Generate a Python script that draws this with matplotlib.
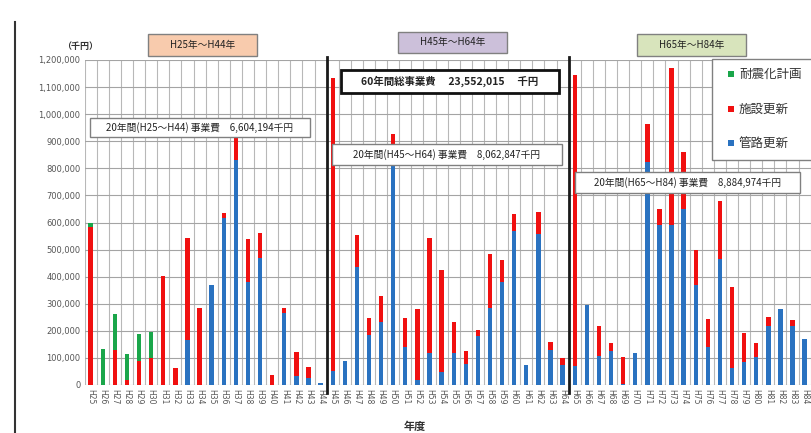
import matplotlib.pyplot as plt
from matplotlib.patches import Rectangle
from matplotlib.lines import Line2D
import numpy as np

plt.rcParams['font.family'] = ['Noto Sans CJK JP', 'DejaVu Sans']

# fiscal years H25..H84
years = ['H%d' % n for n in range(25, 85)]

# 管路更新 (千円)
pipe = [0, 0, 0, 0, 0, 0, 0, 0, 165000, 0,
        371000, 618000, 832000, 380000, 470000, 0, 265000, 34000, 27000, 7000,
        50000, 90000, 436000, 184000, 233000, 830000, 139000, 18000, 119000, 49000,
        117000, 76000, 180000, 283000, 381000, 569000, 74000, 559000, 131000, 74000,
        70000, 297000, 107000, 126000, 5000, 117000, 823000, 590000, 590000, 650000,
        368000, 141000, 467000, 61000, 86000, 102000, 217000, 280000, 217000, 170000]

# 施設更新 (千円)
facility = [585000, 0, 130000, 20000, 90000, 100000, 403000, 63000, 379000, 283000,
            0, 18000, 140000, 158000, 90000, 37000, 19000, 89000, 38000, 0,
            1084000, 0, 119000, 65000, 95000, 95000, 107000, 261000, 424000, 375000,
            116000, 49000, 23000, 200000, 80000, 64000, 0, 80000, 26000, 24000,
            1076000, 0, 112000, 30000, 97000, 0, 139000, 61000, 581000, 210000,
            129000, 101000, 212000, 301000, 107000, 52000, 35000, 0, 23000, 0]

# 耐震化計画 (千円)
quake = [15000, 133000, 132000, 96000, 100000, 95000, 0, 0, 0, 0,
         0, 0, 0, 0, 0, 0, 0, 0, 0, 0,
         0, 0, 0, 0, 0, 0, 0, 0, 0, 0,
         0, 0, 0, 0, 0, 0, 0, 0, 0, 0,
         0, 0, 0, 0, 0, 0, 0, 0, 0, 0,
         0, 0, 0, 0, 0, 0, 0, 0, 0, 0]

period_labels = ['H25年～H44年', 'H45年～H64年', 'H65年～H84年']
period_totals = ['20年間(H25～H44) 事業費　6,604,194千円',
                 '20年間(H45～H64) 事業費　8,062,847千円',
                 '20年間(H65～H84) 事業費　8,884,974千円']
grand_total = '60年間総事業費　 23,552,015 　千円'
series_names = ['耐震化計画', '施設更新', '管路更新']

BLUE = '#2a72c0'
RED = '#f01010'
GREEN = '#1aa64a'

W, H = 811, 433
fig = plt.figure(figsize=(W / 100, H / 100), dpi=100)


def fx(px):
    return px / W


def fy(py):
    return 1 - py / H


def box(x0, y0, x1, y1, text, fc='white', ec='#808080', lw=1.0, size=7, weight='normal'):
    fig.patches.append(Rectangle((fx(x0), fy(y1)), fx(x1) - fx(x0), fy(y0) - fy(y1),
                                 transform=fig.transFigure, fc=fc, ec=ec, lw=lw, zorder=5))
    fig.text(fx((x0 + x1) / 2), fy((y0 + y1) / 2), text, ha='center', va='center',
             fontsize=size, weight=weight, color='#222222', zorder=6)


ax = fig.add_axes([fx(84.6), fy(385), fx(810.7) - fx(84.6), fy(60) - fy(385)])

x = np.arange(len(years))
pipe_a = np.array(pipe)
fac_a = np.array(facility)
qk_a = np.array(quake)
bw = 0.36
ax.bar(x, pipe_a, bw, color=BLUE, zorder=3)
ax.bar(x, fac_a, bw, bottom=pipe_a, color=RED, zorder=3)
ax.bar(x, qk_a, bw, bottom=pipe_a + fac_a, color=GREEN, zorder=3)

ax.set_xlim(-0.5, len(years) - 0.5)
ax.set_ylim(0, 1200000)
ax.set_yticks(np.arange(0, 1200001, 100000))
ax.set_yticklabels(['{:,}'.format(v) for v in range(0, 1200001, 100000)],
                   fontsize=6, color='#555555', family='DejaVu Sans')
ax.set_xticks(x)
ax.set_xticklabels(years, rotation=-90, fontsize=5.5, color='#555555', family='DejaVu Sans')
ax.set_xticks(np.arange(-0.5, len(years), 1), minor=True)
ax.tick_params(axis='both', which='both', length=0, pad=3)
ax.grid(axis='y', which='major', color='#a4a4a4', lw=0.8, zorder=0)
ax.grid(axis='x', which='minor', color='#b8b8b8', lw=0.8, zorder=0)
for s in ax.spines.values():
    s.set_visible(False)

# period separators
for xs in (19.5, 39.5):
    ax.plot([xs, xs], [-28000, 1212000], color='#1a1a1a', lw=2, clip_on=False, zorder=4)

# outer frame (left edge)
fig.add_artist(Line2D([fx(15), fx(15)], [0, fy(22)], transform=fig.transFigure, color='#333333', lw=1.5))

fig.text(fx(80), fy(46), '（千円）', ha='center', va='center', fontsize=6.5, weight='bold', color='#333333')

box(148, 34, 257, 56, period_labels[0], fc='#f8cbad', size=7)
box(398, 32, 507, 53, period_labels[1], fc='#ccc0da', size=7)
box(637, 34, 746, 56, period_labels[2], fc='#d8e4bc', size=7)

box(341, 70, 559, 93, grand_total, ec='#111111', lw=2, size=7.5, weight='bold')
box(90, 118, 310, 137, period_totals[0], size=7)
box(332, 144, 562, 165, period_totals[1], size=7)
box(575, 172, 800, 193, period_totals[2], size=7)

# legend
fig.patches.append(Rectangle((fx(712), fy(160)), fx(830) - fx(712), fy(59) - fy(160),
                             transform=fig.transFigure, fc='white', ec='#808080', lw=1, zorder=5))
for name, col, py in zip(series_names, [GREEN, RED, BLUE], [74, 109, 143]):
    fig.patches.append(Rectangle((fx(728), fy(py + 3)), fx(6), fx(6) * W / H,
                                 transform=fig.transFigure, fc=col, ec='none', zorder=6))
    fig.text(fx(739), fy(py), name, ha='left', va='center', fontsize=9, color='#333333', zorder=6)

fig.text(fx(415), fy(426), '年度', ha='center', va='center', fontsize=8, weight='bold', color='#333333')

fig.savefig('out.png', dpi=100)
